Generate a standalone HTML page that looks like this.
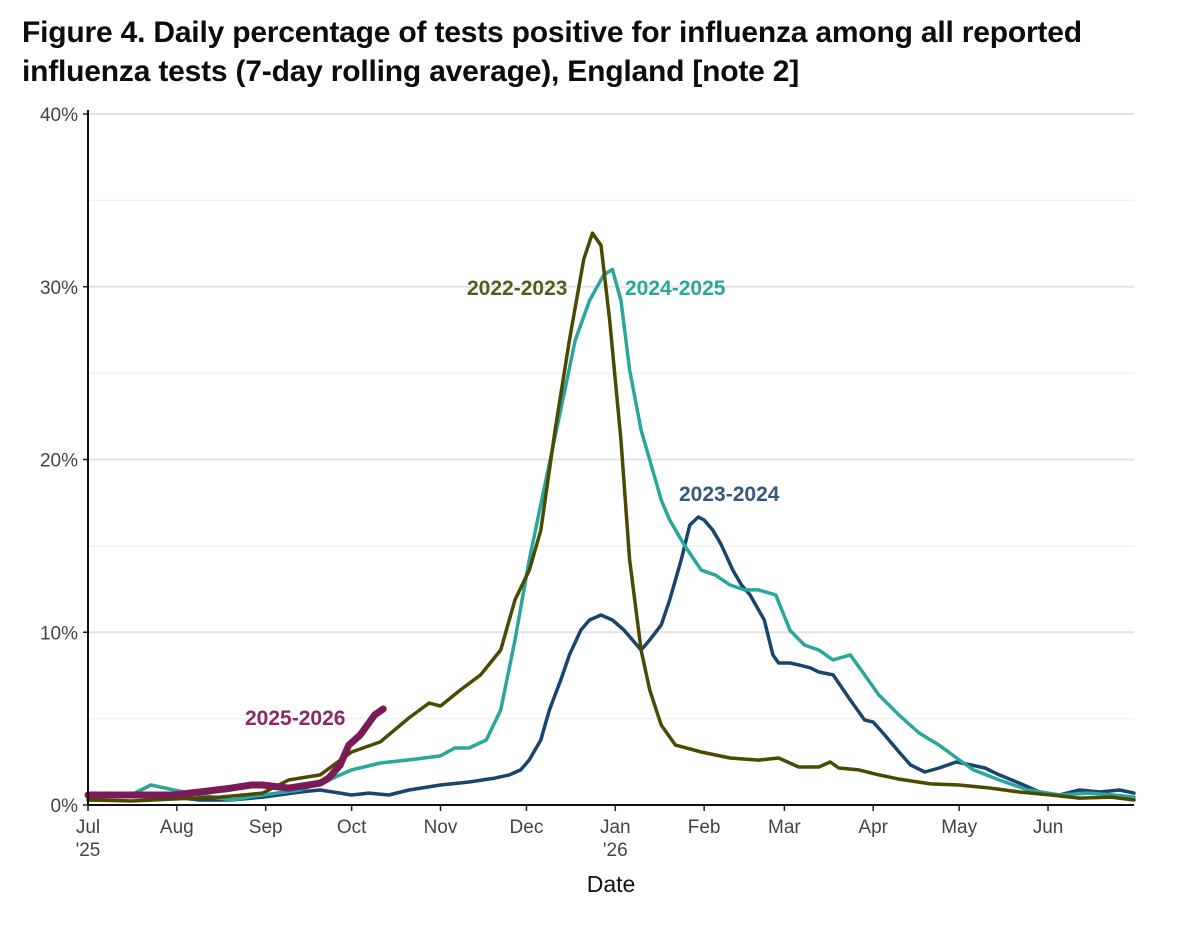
<!DOCTYPE html>
<html><head><meta charset="utf-8"><style>
body{margin:0;background:#fff;font-family:"Liberation Sans",sans-serif;}
#wrap{position:relative;width:1199px;height:925px;overflow:hidden;}
h1{position:absolute;left:22px;top:13px;margin:0;font-size:30px;line-height:39px;font-weight:bold;color:#0b0c0c;letter-spacing:-0.2px;white-space:nowrap;}
</style></head><body>
<div id="wrap">
<h1>Figure 4. Daily percentage of tests positive for influenza among all reported<br>influenza tests (7-day rolling average), England [note 2]</h1>
<svg id="chart" width="1199" height="925" style="position:absolute;left:0;top:0"></svg>
</div>
<script>
const monthLabels=["Jul","Aug","Sep","Oct","Nov","Dec","Jan","Feb","Mar","Apr","May","Jun"];
const monthDays=[0,31,62,92,123,153,184,215,243,274,304,335];
const yTicks=[0,10,20,30,40];
const days2223=[0,15,30,46,61,70,81,92,102,112,119,123,130,137,144,149,154,158,163,168,173,176,179,182,186,189,193,196,200,205,214,224,234,241,248,255,259,262,269,276,283,294,304,315,325,336,346,357,365];
const vals2223=[0.29,0.23,0.35,0.46,0.69,1.45,1.74,3.07,3.65,5.04,5.9,5.73,6.66,7.53,8.97,11.87,13.6,15.9,21.7,26.9,31.6,33.1,32.4,28.1,21.1,14.2,8.97,6.66,4.63,3.47,3.07,2.72,2.6,2.72,2.2,2.2,2.49,2.14,2.03,1.74,1.5,1.22,1.16,0.98,0.75,0.58,0.4,0.46,0.29];
const days2425=[0,8,15,22,30,39,50,61,74,84,92,102,112,123,128,133,139,144,149,154,159,165,170,175,180,183,186,189,193,196,200,203,208,214,219,224,229,234,240,245,250,255,260,266,271,276,283,290,297,304,309,318,328,339,349,358,365];
const vals2425=[0.46,0.69,0.58,1.16,0.87,0.58,0.29,0.58,0.87,1.45,2.03,2.43,2.61,2.84,3.3,3.3,3.76,5.5,9.55,14.2,18.2,22.9,26.9,29.2,30.7,31.0,29.2,25.2,21.7,19.98,17.66,16.5,15.06,13.6,13.3,12.74,12.45,12.45,12.16,10.1,9.26,8.97,8.4,8.69,7.53,6.37,5.21,4.17,3.47,2.61,2.03,1.45,0.87,0.58,0.69,0.58,0.46];
const days2324=[0,15,30,39,50,61,74,81,88,92,98,105,112,123,133,142,147,151,154,158,161,165,168,172,175,179,183,187,193,196,200,203,207,210,213,215,218,221,225,228,231,236,239,241,245,248,252,255,260,266,271,274,278,283,287,292,297,303,308,313,318,325,332,339,346,353,360,365];
const vals2324=[0.46,0.52,0.46,0.29,0.29,0.46,0.75,0.87,0.69,0.58,0.69,0.58,0.87,1.16,1.33,1.56,1.74,2.03,2.61,3.76,5.5,7.24,8.69,10.13,10.71,11.0,10.71,10.13,8.97,9.55,10.42,11.87,14.19,16.21,16.67,16.5,15.92,15.06,13.6,12.74,12.16,10.71,8.69,8.22,8.22,8.11,7.94,7.7,7.53,6.08,4.92,4.8,4.05,3.07,2.32,1.91,2.14,2.49,2.32,2.14,1.74,1.27,0.75,0.58,0.87,0.75,0.87,0.69];
const days2526=[0,15,30,39,50,57,61,70,77,81,84,88,91,95,100,103];
const vals2526=[0.58,0.58,0.58,0.75,0.98,1.16,1.16,0.98,1.16,1.27,1.56,2.32,3.47,4.05,5.21,5.56];

const svg=document.getElementById('chart');
const NS='http://www.w3.org/2000/svg';
const X0=88,X1=1134,Y0=805,Y40=114;
const xs=d=>X0+d*(X1-X0)/365;
const ys=v=>Y0-v*(Y0-Y40)/40;
function mk(t,a,txt){const e=document.createElementNS(NS,t);for(const k in a)e.setAttribute(k,a[k]);if(txt!==undefined)e.textContent=txt;svg.appendChild(e);return e;}
for(let v=5;v<=40;v+=5){
 const g=mk('line',{x1:X0,x2:X1,y1:ys(v),y2:ys(v),stroke:v%10===0?'#e3e3e3':'#f0f0f0','stroke-width':v%10===0?2:1.5});
 
 
}
yTicks.forEach(v=>{
 const t=mk('text',{x:X0-10,y:ys(v)+7,'text-anchor':'end','font-size':19,fill:'#444'},v+'%');
 
 
 mk('line',{x1:X0-5,x2:X0,y1:ys(v),y2:ys(v),stroke:'#222','stroke-width':1.5});
});
monthLabels.forEach((m,i)=>{
 const x=xs(monthDays[i]);
 mk('line',{x1:x,x2:x,y1:Y0,y2:Y0+6,stroke:'#222','stroke-width':1.5});
 const t=mk('text',{x:x,y:833,'text-anchor':'middle','font-size':19,fill:'#444'},m);
 
 
});
[[0,"'25"],[6,"'26"]].forEach(([i,s])=>{
 const t=mk('text',{x:xs(monthDays[i]),y:856,'text-anchor':'middle','font-size':19,fill:'#444'},s);
 
 
});
const xt=mk('text',{x:611,y:892,'text-anchor':'middle','font-size':23,fill:'#111'},'Date');


function series(days,vals,color,w,name){
 const p=days.map((d,i)=>(i?'L':'M')+xs(d).toFixed(1)+','+ys(vals[i]).toFixed(1)).join('');
 const e=mk('path',{d:p,fill:'none',stroke:color,'stroke-width':w,'stroke-linejoin':'round','stroke-linecap':'round'});
 
 
}
series(days2324,vals2324,'#17456e',3.5,'line-2023-2024');
series(days2425,vals2425,'#2ba69c',3.5,'line-2024-2025');
series(days2223,vals2223,'#4a4a00',3.5,'line-2022-2023');
series(days2526,vals2526,'#7b1a57',7,'line-2025-2026');
mk('line',{x1:X0,x2:X0,y1:Y40-4,y2:Y0,stroke:'#111','stroke-width':2});
mk('line',{x1:X0,x2:X1,y1:Y0,y2:Y0,stroke:'#111','stroke-width':2});
[['2022-2023',467,295,'#5c5a1a','label-2022-2023'],['2024-2025',625,295,'#2ba69c','label-2024-2025'],['2023-2024',679,501,'#35597e','label-2023-2024'],['2025-2026',245,725,'#8a2a65','label-2025-2026']].forEach(([s,x,y,c,n])=>{
 const t=mk('text',{x:x,y:y,'font-size':21,'font-weight':'bold',fill:c},s);
 
 
});
</script>
</body></html>
